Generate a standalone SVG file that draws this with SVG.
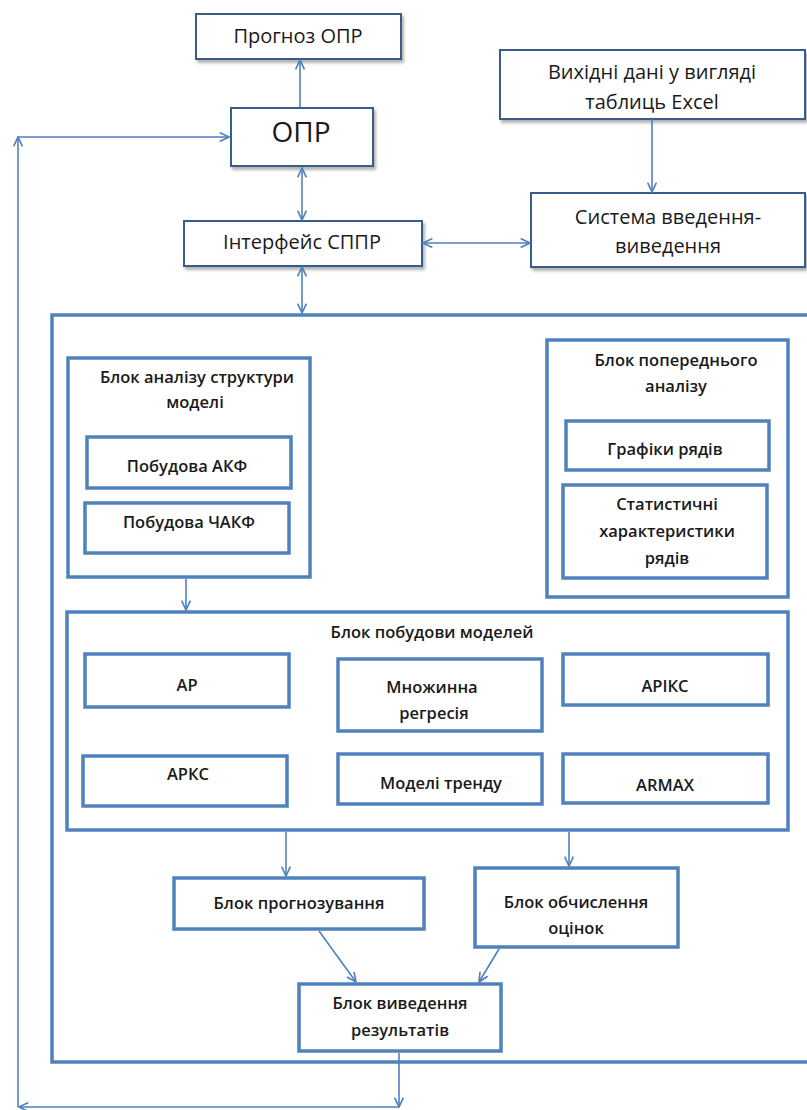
<svg xmlns="http://www.w3.org/2000/svg" width="807" height="1110" viewBox="0 0 807 1110">
<defs>
<style>
.top{fill:#fff;stroke:#385D8A;stroke-width:2}
.box{fill:#fff;stroke:#4F81BD;stroke-width:3.5}
.con{fill:none;stroke:#4F81BD;stroke-width:1.6}
text{font-family:"Open Sans","Noto Sans","DejaVu Sans",sans-serif;font-size:16.5px;font-weight:600;fill:#1a1a1a;text-anchor:middle}
.tt{font-size:20px;font-weight:400}
.big{font-size:28px;font-weight:500}
</style>
<filter id="sh" x="-10%" y="-10%" width="130%" height="140%">
<feDropShadow dx="2" dy="3" stdDeviation="1.5" flood-color="#000" flood-opacity="0.3"/>
</filter>
<marker id="arr" viewBox="0 0 10 10" refX="9.5" refY="5" markerWidth="11" markerHeight="11" orient="auto-start-reverse" markerUnits="userSpaceOnUse">
<path d="M1,1 L9.5,5 L1,9" fill="none" stroke="#4F81BD" stroke-width="1.5"/>
</marker>
</defs>
<rect width="807" height="1110" fill="#fff"/>

<g id="prognoz-opr">
<rect class="top" x="196" y="14" width="205" height="45" filter="url(#sh)"/>
<text class="tt" x="298" y="43">Прогноз ОПР</text>
</g>
<g id="opr">
<rect class="top" x="231" y="108" width="142" height="58" filter="url(#sh)"/>
<text class="big" x="301" y="142">ОПР</text>
</g>
<g id="interface">
<rect class="top" x="184" y="221" width="238" height="45" filter="url(#sh)"/>
<text class="tt" x="302" y="249">Інтерфейс СППР</text>
</g>
<g id="excel">
<rect class="top" x="500" y="50" width="305" height="69" filter="url(#sh)"/>
<text class="tt" x="652" y="79">Вихідні дані у вигляді</text>
<text class="tt" x="652" y="109">таблиць Excel</text>
</g>
<g id="io-system">
<rect class="top" x="531" y="193" width="274" height="74" filter="url(#sh)"/>
<text class="tt" x="668" y="224">Система введення-</text>
<text class="tt" x="668" y="253">виведення</text>
</g>

<g id="outer">
<rect class="box" x="52" y="315" width="770" height="747"/>
</g>

<g id="structure-block">
<rect class="box" x="68" y="358" width="242" height="219"/>
<text x="197" y="383">Блок аналізу структури</text>
<text x="195" y="408">моделі</text>
</g>
<g id="akf">
<rect class="box" x="87" y="437" width="204" height="51"/>
<text x="187" y="472">Побудова АКФ</text>
</g>
<g id="chakf">
<rect class="box" x="85" y="503" width="204" height="50"/>
<text x="189" y="528">Побудова ЧАКФ</text>
</g>

<g id="prelim-block">
<rect class="box" x="547" y="340" width="241" height="257"/>
<text x="676" y="366">Блок попереднього</text>
<text x="676" y="392">аналізу</text>
</g>
<g id="graphs">
<rect class="box" x="566" y="421" width="203" height="49"/>
<text x="665" y="455">Графіки рядів</text>
</g>
<g id="stats">
<rect class="box" x="563" y="485" width="204" height="93"/>
<text x="667" y="510">Статистичні</text>
<text x="667" y="537">характеристики</text>
<text x="667" y="564">рядів</text>
</g>

<g id="models-block">
<rect class="box" x="67" y="612" width="721" height="218"/>
<text x="432" y="638">Блок побудови моделей</text>
</g>
<g id="ar">
<rect class="box" x="85" y="654" width="204" height="53"/>
<text x="187" y="691">АР</text>
</g>
<g id="multi">
<rect class="box" x="338" y="659" width="204" height="72"/>
<text x="432" y="693">Множинна</text>
<text x="434" y="719">регресія</text>
</g>
<g id="arix">
<rect class="box" x="563" y="654" width="205" height="51"/>
<text x="665" y="692">АРІКС</text>
</g>
<g id="arks">
<rect class="box" x="83" y="756" width="204" height="50"/>
<text x="188" y="780">АРКС</text>
</g>
<g id="trend">
<rect class="box" x="338" y="754" width="204" height="50"/>
<text x="441" y="789">Моделі тренду</text>
</g>
<g id="armax">
<rect class="box" x="563" y="754" width="205" height="49"/>
<text x="665" y="791">ARMAX</text>
</g>

<g id="forecast">
<rect class="box" x="174" y="878" width="250" height="51"/>
<text x="299" y="909">Блок прогнозування</text>
</g>
<g id="estimates">
<rect class="box" x="475" y="868" width="203" height="79"/>
<text x="576" y="908">Блок обчислення</text>
<text x="576" y="934">оцінок</text>
</g>
<g id="output">
<rect class="box" x="299" y="984" width="202" height="67"/>
<text x="400" y="1009">Блок виведення</text>
<text x="400" y="1036">результатів</text>
</g>

<g id="connectors">
<line class="con" x1="300" y1="107" x2="300" y2="60" marker-end="url(#arr)"/>
<line class="con" x1="302" y1="168" x2="302" y2="220" marker-start="url(#arr)" marker-end="url(#arr)"/>
<line class="con" x1="302" y1="267" x2="302" y2="313" marker-start="url(#arr)" marker-end="url(#arr)"/>
<line class="con" x1="423" y1="243" x2="530" y2="243" marker-start="url(#arr)" marker-end="url(#arr)"/>
<line class="con" x1="652" y1="119" x2="652" y2="192" marker-end="url(#arr)"/>
<line class="con" x1="186" y1="579" x2="186" y2="610" marker-end="url(#arr)"/>
<line class="con" x1="286" y1="832" x2="286" y2="876" marker-end="url(#arr)"/>
<line class="con" x1="569" y1="832" x2="569" y2="866" marker-end="url(#arr)"/>
<line class="con" x1="319" y1="931" x2="356" y2="982" marker-end="url(#arr)"/>
<line class="con" x1="499" y1="949" x2="479" y2="982" marker-end="url(#arr)"/>
<line class="con" x1="399" y1="1053" x2="399" y2="1107" marker-end="url(#arr)"/>
<line class="con" x1="399" y1="1107" x2="19" y2="1107" marker-end="url(#arr)"/>
<line class="con" x1="18" y1="1107" x2="18" y2="137" marker-end="url(#arr)"/>
<line class="con" x1="18" y1="137" x2="229" y2="137" marker-end="url(#arr)"/>
</g>
</svg>
